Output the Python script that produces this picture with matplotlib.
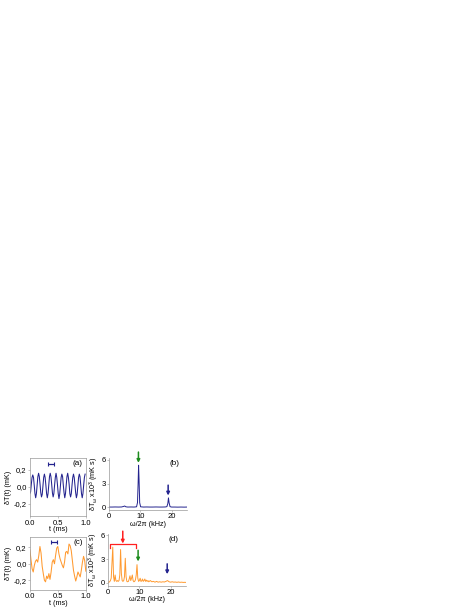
import numpy as np
import matplotlib
matplotlib.use('Agg')
import matplotlib.pyplot as plt

plt.rcParams['font.family'] = ['Liberation Sans', 'DejaVu Sans']
plt.rcParams['mathtext.default'] = 'regular'
plt.rcParams['font.size'] = 5.2

NAVY = '#23238e'
ORANGE = '#ff9a30'
GREEN = '#1e8c1e'
RED = '#ff2020'
SPINE = '#999999'

# (a) temperature trace, sampled every 0.013 ms
t_step_a = 0.013
dT_a = [-0.08, -0.06, 0.03, 0.11, 0.14, 0.11, 0.02, -0.08,
        -0.13, -0.08, 0.02, 0.12, 0.16, 0.12, 0.03, -0.07,
        -0.12, -0.09, 0.01, 0.11, 0.15, 0.11, 0.02, -0.08,
        -0.13, -0.08, 0.02, 0.12, 0.16, 0.12, 0.03, -0.07,
        -0.12, -0.08, 0.02, 0.11, 0.16, 0.11, 0.02, -0.08,
        -0.14, -0.09, 0.01, 0.11, 0.15, 0.12, 0.02, -0.07,
        -0.13, -0.08, 0.02, 0.12, 0.16, 0.11, 0.03, -0.08,
        -0.12, -0.08, 0.02, 0.11, 0.15, 0.11, 0.02, -0.07,
        -0.13, -0.09, 0.01, 0.11, 0.15, 0.12, 0.02, -0.08,
        -0.13, -0.08, 0.02, 0.11, 0.15]
t_a = np.arange(len(dT_a)) * t_step_a

# (b) spectrum of (a)
f_b = [0, 1, 2, 3, 4, 4.6, 5.0, 5.4, 6, 7, 8, 8.8, 9.1, 9.3, 9.45, 9.6, 9.8, 10.1,
       11, 12, 13, 14, 15, 16, 17, 18, 18.5, 18.8, 19.0, 19.2, 19.5, 20, 21, 22, 23, 24, 25]
S_b = [0.05, 0.05, 0.06, 0.05, 0.06, 0.12, 0.18, 0.08, 0.05, 0.06, 0.05, 0.08, 0.6, 3.0, 5.3,
       3.5, 0.6, 0.08, 0.05, 0.06, 0.05, 0.05, 0.06, 0.05, 0.05, 0.06, 0.1, 0.5, 1.2, 0.6,
       0.1, 0.05, 0.05, 0.04, 0.05, 0.04, 0.05]

# (c) irregular temperature trace
t_c = [0.0, 0.02, 0.04, 0.06, 0.08, 0.10, 0.12, 0.14, 0.16, 0.18, 0.20, 0.22, 0.24, 0.26,
       0.28, 0.30, 0.32, 0.34, 0.36, 0.38, 0.40, 0.42, 0.44, 0.46, 0.48, 0.50, 0.52, 0.54,
       0.56, 0.58, 0.60, 0.62, 0.64, 0.66, 0.68, 0.70, 0.72, 0.74, 0.76, 0.78, 0.80, 0.82,
       0.84, 0.86, 0.88, 0.90, 0.92, 0.94, 0.96, 0.98, 1.0]
dT_c = [0.17, 0.05, -0.06, -0.10, -0.02, 0.03, 0.05, 0.02, 0.10, 0.21, 0.13, -0.03, -0.12,
        -0.20, -0.22, -0.15, -0.18, -0.12, -0.19, -0.10, 0.02, 0.05, 0.0, 0.10, 0.19, 0.21,
        0.12, 0.06, 0.02, -0.02, -0.05, 0.02, 0.14, 0.15, 0.12, 0.24, 0.22, 0.16, 0.04,
        -0.08, -0.15, -0.21, -0.16, -0.10, -0.13, -0.16, -0.08, 0.02, 0.09, 0.04, -0.09]

# (d) spectrum of (c)
f_d = [0, 0.25, 0.5, 0.75, 1.0, 1.25, 1.5, 1.75, 2.0, 2.25, 2.5, 2.75, 3.0, 3.25, 3.5, 3.75,
       4.0, 4.25, 4.5, 4.75, 5.0, 5.25, 5.5, 5.75, 6.0, 6.25, 6.5, 6.75, 7.0, 7.25, 7.5, 7.75,
       8.0, 8.25, 8.5, 8.75, 9.0, 9.25, 9.5, 9.75, 10.0, 10.25, 10.5, 10.75, 11.0, 11.25,
       11.5, 11.75, 12.0, 12.25, 12.5, 12.75, 13.0, 13.5, 14.0, 14.5, 15.0, 15.5, 16.0,
       16.5, 17.0, 17.5, 18.0, 18.5, 19.0, 19.5, 20.0, 20.5, 21.0, 21.5, 22.0, 22.5, 23.0,
       23.5, 24.0, 24.5, 25.0]
S_d = [0.1, 0.1, 0.15, 0.3, 0.6, 2.5, 4.5, 0.8, 0.2, 1.0, 0.3, 0.2, 0.3, 0.2, 0.3, 1.0,
       4.2, 1.2, 0.3, 0.2, 0.3, 0.8, 3.1, 0.8, 0.2, 0.15, 0.2, 0.5, 0.9, 0.3, 0.6,
       1.0, 0.3, 0.15, 0.2, 0.4, 1.0, 2.3, 0.6, 0.2, 0.3, 0.6, 0.2, 0.25, 0.5,
       0.2, 0.3, 0.5, 0.2, 0.35, 0.2, 0.3, 0.15, 0.3, 0.15, 0.2, 0.1, 0.2, 0.1,
       0.15, 0.1, 0.15, 0.12, 0.2, 0.3, 0.15, 0.1, 0.15, 0.1, 0.12, 0.08, 0.12, 0.08,
       0.1, 0.07, 0.08, 0.07]

fig = plt.figure(figsize=(4.74, 6.14), dpi=100)


def style(ax, box):
    for side in ['left', 'bottom', 'top', 'right']:
        ax.spines[side].set_color(SPINE)
        ax.spines[side].set_linewidth(0.5)
    if not box:
        ax.spines['top'].set_visible(False)
        ax.spines['right'].set_visible(False)
    ax.tick_params(length=1.5, width=0.4, color=SPINE, pad=0.8, labelsize=5.5)


def arrow(ax, x, y0, y1, color):
    ax.annotate('', xy=(x, y1), xytext=(x, y0),
                arrowprops=dict(arrowstyle='-|>', color=color, lw=1.1, mutation_scale=4.5,
                                shrinkA=0, shrinkB=0),
                annotation_clip=False)


def period_bar(ax, x0, x1, y):
    ax.errorbar([(x0 + x1) / 2], [y], xerr=[(x1 - x0) / 2], color=NAVY, lw=0.9,
                capsize=1.5, capthick=0.8, fmt='none')


# (a)
ax_a = fig.add_axes([0.063, 0.159, 0.118, 0.095])
ax_a.plot(t_a, dT_a, color=NAVY, lw=0.75)
ax_a.set_xlim(0, 1.0)
ax_a.set_ylim(-0.35, 0.34)
ax_a.set_xticks([0.0, 0.5, 1.0])
ax_a.set_xticklabels(['0.0', '0.5', '1.0'])
ax_a.set_yticks([-0.2, 0.0, 0.2])
ax_a.set_yticklabels(['-0,2', '0,0', '0,2'])
ax_a.set_xlabel('t (ms)', labelpad=-0.5)
ax_a.set_ylabel('δT(t) (mK)', labelpad=1)
period_bar(ax_a, 0.33, 0.44, 0.27)
ax_a.text(0.86, 0.27, '(a)', ha='center', va='center', fontsize=5.8)
style(ax_a, True)

# (b)
ax_b = fig.add_axes([0.230, 0.169, 0.165, 0.085])
ax_b.plot(f_b, S_b, color=NAVY, lw=0.7)
ax_b.set_xlim(0, 25)
ax_b.set_ylim(-0.35, 6.2)
ax_b.set_xticks([0, 10, 20])
ax_b.set_yticks([0, 3, 6])
ax_b.set_xlabel('ω/2π (kHz)', labelpad=0.3)
ax_b.set_ylabel('δT$_ω$ x10$^3$ (mK s)', labelpad=0.5)
arrow(ax_b, 9.4, 6.95, 5.6, GREEN)
arrow(ax_b, 18.9, 2.8, 1.5, NAVY)
ax_b.text(21.0, 5.5, '(b)', ha='center', va='center', fontsize=5.8)
style(ax_b, False)

# (c)
ax_c = fig.add_axes([0.063, 0.039, 0.118, 0.087])
ax_c.plot(t_c, dT_c, color=ORANGE, lw=0.75)
ax_c.set_xlim(0, 1.0)
ax_c.set_ylim(-0.32, 0.33)
ax_c.set_xticks([0.0, 0.5, 1.0])
ax_c.set_xticklabels(['0.0', '0.5', '1.0'])
ax_c.set_yticks([-0.2, 0.0, 0.2])
ax_c.set_yticklabels(['-0,2', '0,0', '0,2'])
ax_c.set_xlabel('t (ms)', labelpad=-0.5)
ax_c.set_ylabel('δT(t) (mK)', labelpad=1)
period_bar(ax_c, 0.38, 0.49, 0.27)
ax_c.text(0.87, 0.26, '(c)', ha='center', va='center', fontsize=5.8)
style(ax_c, True)

# (d)
ax_d = fig.add_axes([0.228, 0.046, 0.165, 0.085])
ax_d.plot(f_d, S_d, color=ORANGE, lw=0.7)
ax_d.set_xlim(0, 25)
ax_d.set_ylim(-0.35, 6.2)
ax_d.set_xticks([0, 10, 20])
ax_d.set_yticks([0, 3, 6])
ax_d.set_xlabel('ω/2π (kHz)', labelpad=0.3)
ax_d.set_ylabel('δT$_ω$ x10$^3$ (mK s)', labelpad=0.5)
ax_d.plot([0.7, 0.7, 8.8, 8.8], [4.4, 4.85, 4.85, 4.4], color=RED, lw=0.9, clip_on=False)
arrow(ax_d, 4.7, 6.5, 4.95, RED)
arrow(ax_d, 9.6, 4.1, 2.7, GREEN)
arrow(ax_d, 18.9, 2.4, 1.1, NAVY)
ax_d.text(21.0, 5.5, '(d)', ha='center', va='center', fontsize=5.8)
style(ax_d, False)

fig.savefig('out.png', dpi=100)
